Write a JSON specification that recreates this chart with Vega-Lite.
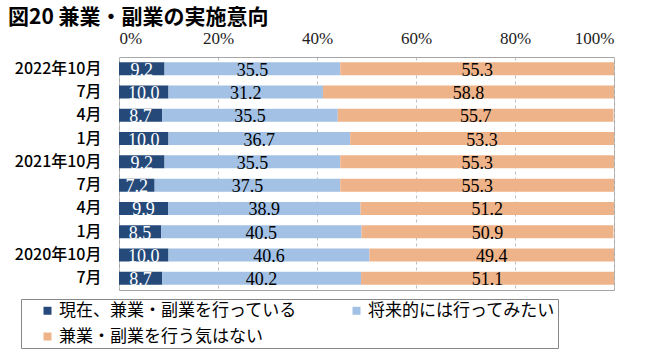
{
  "$schema": "https://vega.github.io/schema/vega-lite/v6.json",
  "autosize": {"type": "none"},
  "width": 495,
  "height": 233,
  "padding": {"left": 119, "top": 57, "right": 36, "bottom": 65},
  "background": "white",
  "title": {
    "text": "図20 兼業・副業の実施意向",
    "anchor": "start",
    "frame": "group",
    "dx": -111,
    "offset": 1,
    "fontSize": 21,
    "font": "Noto Sans CJK JP",
    "fontWeight": "bold",
    "color": "#000000"
  },
  "config": {
    "view": {"stroke": "#a6a6a6", "strokeWidth": 1}
  },
  "data": {
    "values": [
      {"period": "01|2022年10月", "cat": "現在、兼業・副業を行っている", "ord": 1, "value": 9.2},
      {"period": "01|2022年10月", "cat": "将来的には行ってみたい", "ord": 2, "value": 35.5},
      {"period": "01|2022年10月", "cat": "兼業・副業を行う気はない", "ord": 3, "value": 55.3},
      {"period": "02|7月", "cat": "現在、兼業・副業を行っている", "ord": 1, "value": 10.0},
      {"period": "02|7月", "cat": "将来的には行ってみたい", "ord": 2, "value": 31.2},
      {"period": "02|7月", "cat": "兼業・副業を行う気はない", "ord": 3, "value": 58.8},
      {"period": "03|4月", "cat": "現在、兼業・副業を行っている", "ord": 1, "value": 8.7},
      {"period": "03|4月", "cat": "将来的には行ってみたい", "ord": 2, "value": 35.5},
      {"period": "03|4月", "cat": "兼業・副業を行う気はない", "ord": 3, "value": 55.7},
      {"period": "04|1月", "cat": "現在、兼業・副業を行っている", "ord": 1, "value": 10.0},
      {"period": "04|1月", "cat": "将来的には行ってみたい", "ord": 2, "value": 36.7},
      {"period": "04|1月", "cat": "兼業・副業を行う気はない", "ord": 3, "value": 53.3},
      {"period": "05|2021年10月", "cat": "現在、兼業・副業を行っている", "ord": 1, "value": 9.2},
      {"period": "05|2021年10月", "cat": "将来的には行ってみたい", "ord": 2, "value": 35.5},
      {"period": "05|2021年10月", "cat": "兼業・副業を行う気はない", "ord": 3, "value": 55.3},
      {"period": "06|7月", "cat": "現在、兼業・副業を行っている", "ord": 1, "value": 7.2},
      {"period": "06|7月", "cat": "将来的には行ってみたい", "ord": 2, "value": 37.5},
      {"period": "06|7月", "cat": "兼業・副業を行う気はない", "ord": 3, "value": 55.3},
      {"period": "07|4月", "cat": "現在、兼業・副業を行っている", "ord": 1, "value": 9.9},
      {"period": "07|4月", "cat": "将来的には行ってみたい", "ord": 2, "value": 38.9},
      {"period": "07|4月", "cat": "兼業・副業を行う気はない", "ord": 3, "value": 51.2},
      {"period": "08|1月", "cat": "現在、兼業・副業を行っている", "ord": 1, "value": 8.5},
      {"period": "08|1月", "cat": "将来的には行ってみたい", "ord": 2, "value": 40.5},
      {"period": "08|1月", "cat": "兼業・副業を行う気はない", "ord": 3, "value": 50.9},
      {"period": "09|2020年10月", "cat": "現在、兼業・副業を行っている", "ord": 1, "value": 10.0},
      {"period": "09|2020年10月", "cat": "将来的には行ってみたい", "ord": 2, "value": 40.6},
      {"period": "09|2020年10月", "cat": "兼業・副業を行う気はない", "ord": 3, "value": 49.4},
      {"period": "10|7月", "cat": "現在、兼業・副業を行っている", "ord": 1, "value": 8.7},
      {"period": "10|7月", "cat": "将来的には行ってみたい", "ord": 2, "value": 40.2},
      {"period": "10|7月", "cat": "兼業・副業を行う気はない", "ord": 3, "value": 51.1}
    ]
  },
  "encoding": {
    "y": {
      "field": "period",
      "type": "nominal",
      "sort": "ascending",
      "scale": {"paddingInner": 0.44, "paddingOuter": 0.22},
      "axis": {
        "title": null,
        "labelExpr": "split(datum.value, '|')[1]",
        "ticks": false,
        "domain": false,
        "labelFont": "Noto Sans CJK JP",
        "labelFontSize": 16,
        "labelFontWeight": 500,
        "labelColor": "#000000",
        "labelPadding": 18
      }
    }
  },
  "layer": [
    {
      "mark": {"type": "bar"},
      "encoding": {
        "x": {
          "field": "value",
          "type": "quantitative",
          "stack": "zero",
          "scale": {"domain": [0, 100], "nice": false},
          "axis": {
            "orient": "top",
            "title": null,
            "values": [0, 20, 40, 60, 80, 100],
            "labelExpr": "datum.value + '%'",
            "grid": true,
            "gridDash": [3, 3],
            "gridColor": "#bfbfbf",
            "ticks": false,
            "domain": false,
            "labelFont": "Liberation Serif",
            "labelFontSize": 17,
            "labelColor": "#222222",
            "labelPadding": 10
          }
        },
        "color": {
          "field": "cat",
          "type": "nominal",
          "scale": {
            "domain": ["現在、兼業・副業を行っている", "将来的には行ってみたい", "兼業・副業を行う気はない"],
            "range": ["#254a7a", "#a2c1e4", "#efb38a"]
          },
          "legend": {
            "title": null,
            "orient": "none",
            "legendX": -98,
            "legendY": 242,
            "direction": "horizontal",
            "columns": 2,
            "strokeColor": "#888888",
            "padding": 3,
            "symbolType": "square",
            "symbolSize": 64,
            "symbolOffset": 15,
            "symbolStrokeWidth": 0,
            "labelFont": "Noto Sans CJK JP",
            "labelFontSize": 17,
            "labelColor": "#000000",
            "labelLimit": 400,
            "labelOffset": 3,
            "columnPadding": 36,
            "rowPadding": 8
          }
        },
        "order": {"field": "ord", "type": "quantitative"}
      }
    },
    {
      "mark": {"type": "text", "font": "Liberation Serif", "fontSize": 18, "dy": 2},
      "encoding": {
        "x": {"field": "value", "type": "quantitative", "stack": "zero", "bandPosition": 0.5},
        "order": {"field": "ord", "type": "quantitative"},
        "text": {"field": "value", "type": "quantitative", "format": ".1f"},
        "color": {
          "condition": {"test": "datum.ord === 1", "value": "#ffffff"},
          "value": "#000000"
        }
      }
    }
  ]
}
